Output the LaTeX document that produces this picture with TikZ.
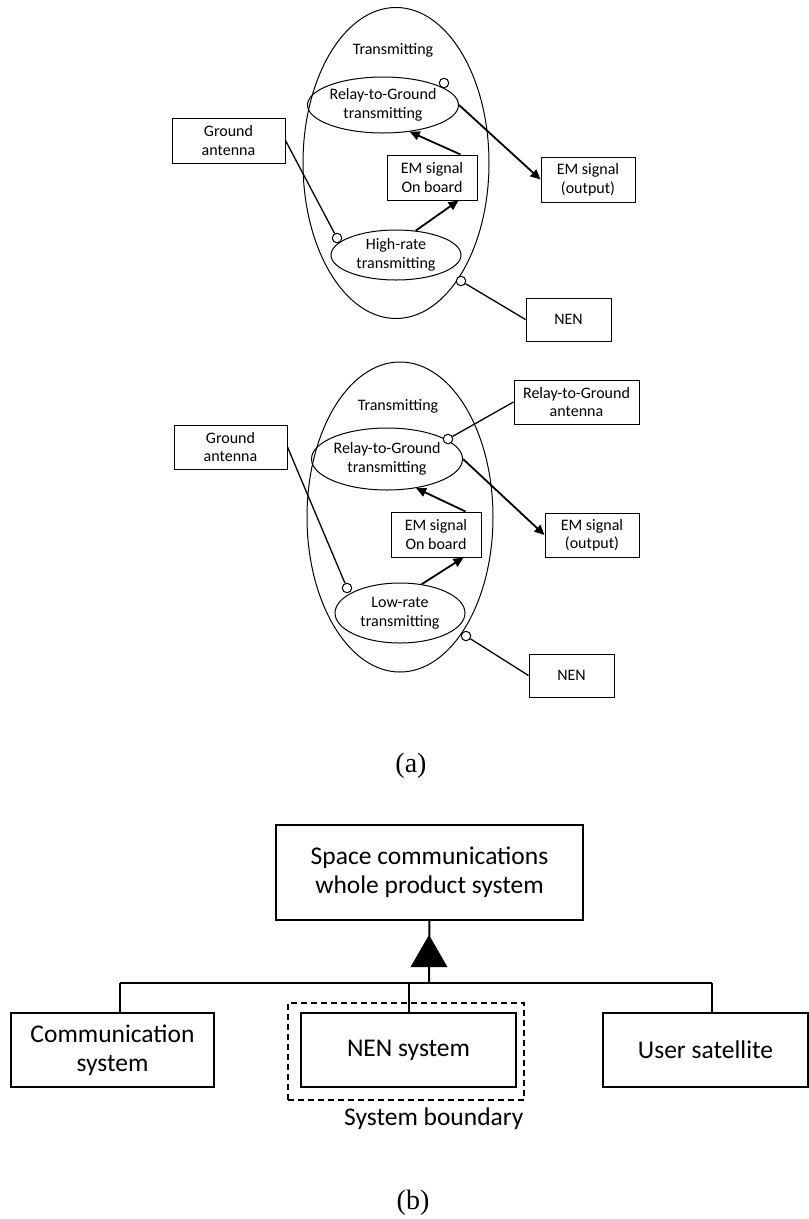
\documentclass[tikz,border=0pt]{standalone}
\usepackage{fontspec}
\setmainfont{Carlito}
\newfontfamily\capfont{Liberation Serif}
\usetikzlibrary{arrows.meta,shapes.geometric,calc}
\tikzset{
  sm/.style={font=\fontsize{16}{18.5}\selectfont, align=center},
  smbox/.style={sm, draw, line width=1pt, inner sep=0pt, minimum width=#1},
  ell/.style={sm, draw, ellipse, line width=1pt, inner sep=0pt},
  port/.style={draw, circle, fill=white, line width=1pt, inner sep=0pt, minimum size=9.5pt},
  link/.style={line width=1.3pt},
  flow/.style={line width=1.8pt, -{Triangle[length=10pt,width=9pt]}},
  big/.style={font=\fontsize{25.5}{29}\selectfont, align=center},
  bigbox/.style={big, draw, line width=1.5pt, inner sep=0pt},
  tree/.style={line width=2pt},
  captext/.style={font=\capfont\fontsize{28}{32}\selectfont}
}
\begin{document}
\begin{tikzpicture}[x=1pt,y=-1pt]
\useasboundingbox (0,0) rectangle (809,1219);

% ---------------- top diagram (high-rate) ----------------
\node[ell, minimum width=186pt, minimum height=311pt] (o1) at (396,163) {};
\node[sm] (t1) at (393,50) {Transmitting};
\node[ell, minimum width=132pt, minimum height=56pt] (r1) at (383,105) {Relay-to-Ground\\transmitting};
\node[ell, minimum width=130pt, minimum height=50pt] (h1) at (396,255) {High-rate\\transmitting};
\node[smbox=90pt, minimum height=45pt] (em1) at (432,177.5) {EM signal\\On board};
\node[smbox=94pt, minimum height=45pt] (eo1) at (588,179.5) {EM signal\\(output)};
\node[smbox=113pt, minimum height=45pt] (ga1) at (228.5,140.5) {Ground\\antenna};
\node[smbox=85pt, minimum height=43pt] (nen1) at (568.5,319.5) {NEN};
\node[port] (c2) at (444,83) {};
\node[port] (c1) at (337,238) {};
\node[port] (c3) at (461,281) {};
\coordinate (em1t) at ($(em1.north east)+(-17,0)$);
\coordinate (em1b) at ($(em1.south east)+(-19,0)$);
\draw[link] (ga1.east) -- (c1);
\draw[link] (c3) -- (nen1.west);
\draw[flow] (em1t) -- (r1.-45);
\draw[flow] (h1.51) -- (em1b);
\draw[flow] (r1.east) -- (eo1.west);

% ---------------- second diagram (low-rate) ----------------
\node[ell, minimum width=186pt, minimum height=310pt] (o2) at (400,517) {};
\node[sm] (t2) at (398,406) {Transmitting};
\node[ell, minimum width=132pt, minimum height=62pt] (r2) at (387,459) {Relay-to-Ground\\transmitting};
\node[ell, minimum width=130pt, minimum height=60pt] (l2) at (400,613) {Low-rate\\transmitting};
\node[smbox=90pt, minimum height=45pt] (em2) at (436,534.5) {EM signal\\On board};
\node[smbox=94pt, minimum height=44pt] (eo2) at (592,535) {EM signal\\(output)};
\node[smbox=113pt, minimum height=44pt] (ga2) at (230.5,447) {Ground\\antenna};
\node[smbox=125pt, minimum height=44pt] (rga) at (576.5,402) {Relay-to-Ground\\antenna};
\node[smbox=85pt, minimum height=43pt] (nen2) at (571.5,675.5) {NEN};
\node[port] (c5) at (448,439) {};
\node[port] (c4) at (347,588) {};
\node[port] (c6) at (466,636) {};
\coordinate (em2t) at ($(em2.north east)+(-16,0)$);
\coordinate (em2b) at ($(em2.south east)+(-18,0)$);
\draw[link] (ga2.east) -- (c4);
\draw[link] (c5) -- (rga.west);
\draw[link] (c6) -- (nen2.west);
\draw[flow] (em2t) -- (r2.-45);
\draw[flow] (l2.53) -- (em2b);
\draw[flow] (r2.east) -- (eo2.west);

\node[captext] (capa) at (411,766) {(a)};

% ---------------- (b) ----------------
\node[bigbox, minimum width=307pt, minimum height=95pt] (sp) at (429.5,872.5) {Space communications\\whole product system};
\node[bigbox, minimum width=203pt, minimum height=74pt] (cs) at (112.5,1050) {Communication\\system};
\node[bigbox, minimum width=215pt, minimum height=74pt] (ns) at (408.5,1050) {NEN system};
\node[bigbox, minimum width=205pt, minimum height=74pt] (us) at (705.5,1050) {User satellite};
\node[draw, dash pattern=on 6pt off 4pt, line width=1.2pt, minimum width=236pt, minimum height=97pt, inner sep=0pt] (bd) at (406,1051.5) {};
\node[big, anchor=base east] (bdl) at (527,1125) {System boundary};
\coordinate (bj) at (429,983);
\coordinate (bl) at (120,983);
\coordinate (br) at (712,983);
\draw[tree] (sp.south) -- (bj);
\draw[tree] (bl) -- (br);
\draw[tree] (bl) -- (bl |- cs.north);
\draw[tree] (br) -- (br |- us.north);
\draw[tree] (ns.north) -- (ns.north |- bj);
\fill (429,935) -- (447.5,967) -- (410.5,967) -- cycle;

\node[captext] (capb) at (413,1203) {(b)};
\end{tikzpicture}
\end{document}
